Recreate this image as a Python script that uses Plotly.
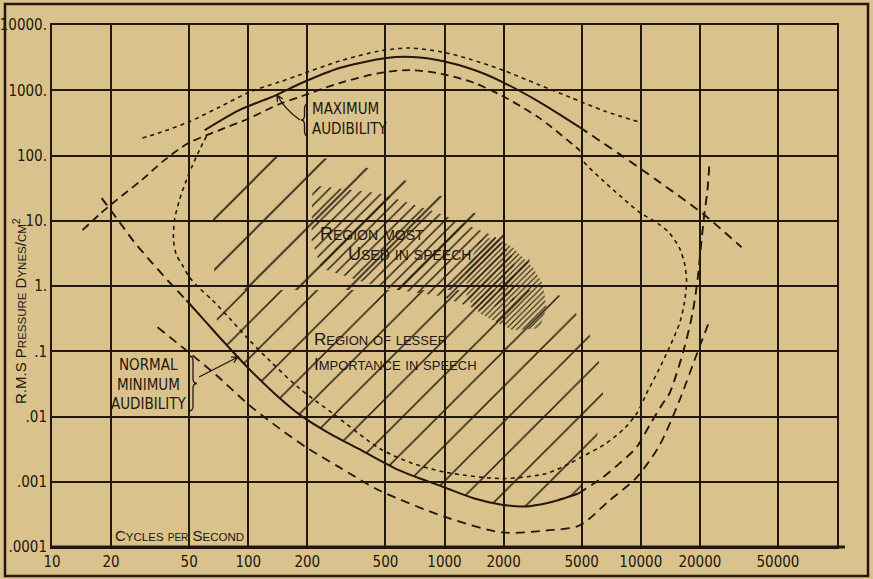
import math
import plotly.graph_objects as go

# ---------------------------------------------------------------- axes
FREQ_TICKS = [10, 20, 50, 100, 200, 500, 1000, 2000, 5000, 10000, 20000, 50000]
FREQ_LABELS = ["10", "20", "50", "100", "200", "500", "1000", "2000", "5000",
               "10000", "20000", "50000"]
PRESS_TICKS = [0.0001, 0.001, 0.01, 0.1, 1, 10, 100, 1000, 10000]
PRESS_LABELS = [".0001", ".001", ".01", ".1", "1.", "10.", "100.", "1000.", "10000."]

# ------------------------------------------- maximum audibility (feeling)
max_f = [60, 90, 139, 182, 292, 506, 687, 977, 1420, 1975, 3050, 4875]
max_p = [245, 497, 844, 1245, 2190, 3117, 3229, 2804, 2040, 1336, 659, 272]

max_ext_f = [4875, 7794, 12460, 20870, 32620]
max_ext_p = [272, 105, 39.1, 12.6, 3.93]

max_hi_f = [28.9, 37.4, 49.6, 71.4, 101.5, 144, 182, 292, 466, 663, 977, 1341,
            1975, 3049, 4335, 6537, 9853]
max_hi_p = [185, 237, 325, 552, 938, 1336, 1710, 2804, 3993, 4438, 3853, 3008,
            2040, 1201, 786, 480, 325]

max_lo_f = [14.3, 17.5, 21.3, 28.6, 37.4, 49.6, 71.4, 101.5, 144, 182, 292, 466,
            663, 977, 1422, 1975, 3049, 4875]
max_lo_p = [7.17, 12.6, 20.7, 41.9, 85, 155, 245, 374, 614, 786, 1289, 1835,
            2040, 1772, 1289, 815, 374, 121]

# ------------------------------------------------ dotted enclosing boundary
outer_f = [61.3, 56.4, 52.0, 48.4, 44.6, 42.1, 41.6, 43.1, 46.2, 50.2, 56.4, 65.7,
           80.3, 98.0, 128, 182, 269, 466, 687, 1024, 1975, 3309, 4335, 5170,
           6537, 8260, 9625, 10700, 12170, 14010, 15760, 16700, 17110, 16700,
           15760, 14010, 12170, 9850, 7980, 6385, 5049, 4875]
outer_p = [198, 121, 71, 41.9, 20.7, 10.2, 5.04, 2.96, 2.08, 1.36, 0.924, 0.605,
           0.320, 0.164, 0.0727, 0.0270, 0.0112, 0.00325, 0.00191, 0.00139,
           0.00112, 0.00134, 0.00191, 0.00253, 0.00374, 0.00658, 0.0116, 0.0226,
           0.0475, 0.115, 0.268, 0.563, 1.23, 2.23, 3.80, 6.45, 9.2, 13.5, 23.0,
           41.9, 85, 121]

# ----------------------------------------------------- minimum audibility
min_left_f = [17.9, 22.1, 26.3, 32.5, 39.7, 48.4]
min_left_p = [22.2, 9.5, 4.69, 2.23, 1.14, 0.605]

min_f = [48.4, 59.8, 71.4, 101.5, 136, 185, 259, 378, 590, 1000, 1422, 1929,
         2556, 3428, 4818]
min_p = [0.605, 0.298, 0.164, 0.0528, 0.0226, 0.0104, 0.00551, 0.00302,
         0.00149, 0.000818, 0.000555, 0.000449, 0.000418, 0.000482, 0.000662]

min_right_f = [4818, 6385, 7794, 9513, 11080, 12760, 14010, 16700, 18350, 19460,
               20400, 21120, 21880, 22400]
min_right_p = [0.000662, 0.00116, 0.00191, 0.00336, 0.0073, 0.0148, 0.0226,
               0.115, 0.382, 1.23, 5.04, 13.1, 29.4, 79]

min_lo_f = [34.5, 48.4, 68.9, 101.5, 144, 198, 292, 466, 1024, 1975, 3309, 4875,
            6931, 9513, 12460, 15760, 18780, 22140]
min_lo_p = [0.233, 0.103, 0.0428, 0.0148, 0.00658, 0.00336, 0.00166, 0.000736,
            0.000284, 0.000167, 0.000179, 0.000214, 0.000517, 0.00116, 0.00361,
            0.0177, 0.0727, 0.268]

# --------------------------------------------------------- speech regions
# lesser importance, upper part (wide hatching)
lesser_top_f = [66.5, 82, 210, 369, 746, 1510, 2710, 2710, 68.5, 65.7]
lesser_top_p = [50, 100, 100, 71, 35, 12, 2.96, 0.87, 0.87, 3.5]
# lesser importance, lower part (closer hatching)
lesser_low_f = [68.5, 2710, 3720, 5290, 6240, 6460, 5810, 4818, 3428, 2556, 1929,
                1422, 1000, 590, 378, 259, 185, 136, 101.5, 71.4, 68]
lesser_low_p = [0.87, 0.87, 0.8, 0.25, 0.059, 0.0177, 0.00302, 0.000662, 0.000482,
                0.000418, 0.000449, 0.000555, 0.000818, 0.00149, 0.00302, 0.00551,
                0.0104, 0.0226, 0.0528, 0.164, 0.42]

most_f = [212, 466, 910, 1800, 2270, 2270, 1508, 943, 466, 236, 210]
most_p = [35, 26.5, 13.5, 5.8, 2.67, 0.605, 0.425, 0.70, 0.96, 1.87, 5.04]

core_f = [1508, 1800, 2220, 2810, 3160, 3310, 3050, 2220, 1508, 1295, 1295]
core_p = [5.04, 5.6, 3.93, 1.94, 1.10, 0.47, 0.225, 0.21, 0.382, 0.67, 1.75]

# ------------------------------------------------------------------ style
PAPER = "#dac28c"
INK = "#22160d"
NUM_FONT = "DejaVu Sans Condensed, Liberation Sans, sans-serif"
CAP_FONT = "Liberation Sans, Arial, sans-serif"

W_PX, H_PX = 873, 579
ML, MR, MT, MB = 52, 36, 25, 32
PW, PH = W_PX - ML - MR, H_PX - MT - MB


def px_x(x):
    return (x - ML) / PW


def px_y(y):
    return 1 - (y - MT) / PH


def pt(x, y):
    return f"{px_x(x):.5f},{px_y(y):.5f}"


def small(text, size):
    return f"<span style='font-size:{size}px'>{text}</span>"


def small_caps(text, size):
    """Keep the initial capitals at the base size, set the rest as small capitals."""
    words = []
    for word in text.split(" "):
        if word[0].isupper():
            words.append(word[0] + small(word[1:].upper(), size))
        else:
            words.append(small(word.upper(), size))
    return " ".join(words)


fig = go.Figure()


def hatch(fx, fy, size, solidity):
    fig.add_trace(go.Scatter(
        x=fx, y=fy, mode="lines", fill="toself", line=dict(width=0),
        fillcolor="rgba(0,0,0,0)",
        fillpattern=dict(shape="/", size=size, solidity=solidity, fgcolor=INK,
                         fgopacity=1, bgcolor="rgba(0,0,0,0)", fillmode="overlay"),
        hoverinfo="skip"))


hatch(lesser_top_f, lesser_top_p, 36, 0.045)
hatch(lesser_low_f, lesser_low_p, 25, 0.06)
hatch(most_f, most_p, 8, 0.17)
hatch(core_f, core_p, 4, 0.28)


def curve(fx, fy, dash="solid", width=2.0):
    fig.add_trace(go.Scatter(
        x=fx, y=fy, mode="lines",
        line=dict(color=INK, width=width, dash=dash, shape="spline", smoothing=0.8),
        hoverinfo="skip"))


curve(max_f, max_p)
curve(max_ext_f, max_ext_p, "9px,6px", 1.9)
curve(max_hi_f, max_hi_p, "4px,4px", 1.6)
curve(max_lo_f, max_lo_p, "8px,5px", 1.8)
curve(outer_f, outer_p, "4px,4px", 1.6)
curve(min_left_f, min_left_p, "9px,6px", 1.9)
curve(min_f, min_p)
curve(min_right_f, min_right_p, "9px,6px", 1.9)
curve(min_lo_f, min_lo_p, "9px,6px", 1.8)


def note(text, x, y, family=NUM_FONT, size=15, xanchor="left", angle=0):
    fig.add_annotation(
        text=text, x=px_x(x), y=px_y(y), xref="paper", yref="paper",
        showarrow=False, xanchor=xanchor, yanchor="middle", textangle=angle,
        font=dict(family=family, size=size, color=INK))


note("MAXIMUM", 310, 109)
note("AUDIBILITY", 310, 129)
note("NORMAL", 148, 365, xanchor="center")
note("MINIMUM", 148, 385, xanchor="center")
note("AUDIBILITY", 148, 404, xanchor="center")
note(small_caps("Region most", 14), 318, 234, CAP_FONT, 18)
note(small_caps("Used in speech", 14), 346, 254, CAP_FONT, 18)
note(small_caps("Region of lesser", 13), 312, 339, CAP_FONT, 17)
note(small_caps("Importance in speech", 13), 312, 364, CAP_FONT, 17)
note("C" + small("YCLES", 11.5) + " " + small("PER", 10) + " S" + small("ECOND", 11.5),
     113, 535, CAP_FONT, 15)
note("R.M.S P" + small("RESSURE", 11.5) + " D" + small("YNES", 11.5) + "/"
     + small("CM", 11.5) + "<sup>2</sup>",
     19, 311, CAP_FONT, 15, "center", -90)


def arrow_path(tail, tip, bend):
    """Slightly curved leader from tail to tip with an open arrow head."""
    (x0, y0), (x1, y1) = tail, tip
    mx, my = (x0 + x1) / 2, (y0 + y1) / 2
    dx, dy = x1 - x0, y1 - y0
    n = math.hypot(dx, dy)
    cx, cy = mx - dy / n * bend, my + dx / n * bend
    ang = math.atan2(y1 - cy, x1 - cx)
    heads = []
    for s in (-1, 1):
        a = ang + math.pi - s * 0.45
        heads.append((x1 + 7 * math.cos(a), y1 + 7 * math.sin(a)))
    return (f"M {pt(x0, y0)} Q {pt(cx, cy)} {pt(x1, y1)} "
            f"M {pt(*heads[0])} L {pt(x1, y1)} L {pt(*heads[1])}")


def brace(x, yt, yb, w):
    xm, xe, ym, d = x + w / 2, x + w, (yt + yb) / 2, 5
    return (f"M {pt(x, yt)} Q {pt(xm, yt)} {pt(xm, yt + d)} L {pt(xm, ym - d)} "
            f"Q {pt(xm, ym)} {pt(xe, ym)} Q {pt(xm, ym)} {pt(xm, ym + d)} "
            f"L {pt(xm, yb - d)} Q {pt(xm, yb)} {pt(x, yb)}")


def ink_path(path, width=1.3):
    return dict(type="path", path=path, xref="paper", yref="paper",
                line=dict(color=INK, width=width))


shapes = [
    ink_path(brace(308, 104, 136, -7)),
    ink_path(brace(189, 356, 411, 8)),
    ink_path(arrow_path((300, 120), (277, 95), -4)),
    ink_path(arrow_path((199, 377), (238, 357), 0)),
    # heavier base line, running a little past the last grid line
    dict(type="line", xref="paper", yref="paper", x0=px_x(52), x1=px_x(845),
         y0=0, y1=0, line=dict(color=INK, width=3)),
    dict(type="rect", xref="paper", yref="paper",
         x0=px_x(5), x1=px_x(868), y0=px_y(576), y1=px_y(4),
         line=dict(color=INK, width=2.5)),
]

axis_common = dict(
    type="log", showgrid=True, gridcolor=INK, gridwidth=1.8, showline=True,
    mirror=True, linecolor=INK, linewidth=2, ticks="", zeroline=False,
    automargin=False, tickfont=dict(family=NUM_FONT, size=15, color=INK),
    fixedrange=True)

fig.update_layout(
    width=W_PX, height=H_PX, margin=dict(l=ML, r=MR, t=MT, b=MB),
    paper_bgcolor=PAPER, plot_bgcolor=PAPER, showlegend=False, hovermode=False,
    xaxis=dict(axis_common, range=[1, 5], tickvals=FREQ_TICKS, ticktext=FREQ_LABELS),
    yaxis=dict(axis_common, range=[-4, 4], tickvals=PRESS_TICKS, ticktext=PRESS_LABELS),
    shapes=shapes)

fig.write_html("out.html", config={"displayModeBar": False})
